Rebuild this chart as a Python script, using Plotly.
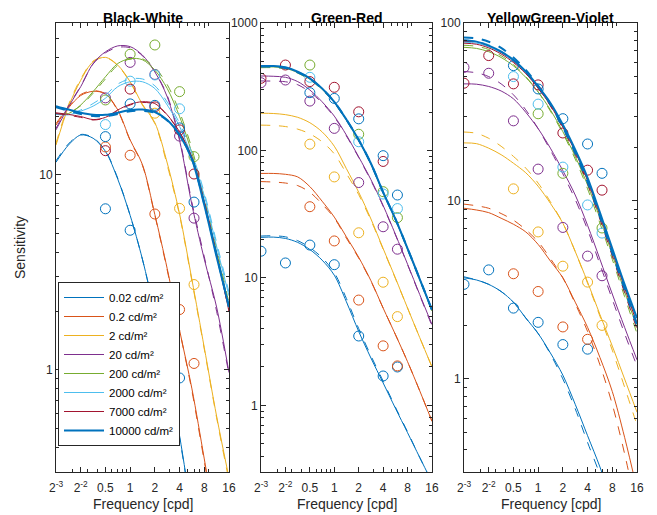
import math
import plotly.graph_objects as go

# ---------------- data ----------------
FREQ = [0.125, 0.177, 0.25, 0.354, 0.5, 0.707, 1, 1.41, 2, 2.83, 4, 5.66, 8, 11.3, 16]
MEAS_FREQ = [0.125, 0.25, 0.5, 1, 2, 4, 6]
LUM_LABELS = ["0.02 cd/m²", "0.2 cd/m²", "2 cd/m²", "20 cd/m²",
              "200 cd/m²", "2000 cd/m²", "7000 cd/m²", "10000 cd/m²"]
COLORS = ["#0072BD", "#D95319", "#EDB120", "#7E2F8E", "#77AC30", "#4DBEEE", "#A2142F", "#0072BD"]

PANEL_TITLES = ["Black-White", "Green-Red", "YellowGreen-Violet"]
X_TICKVALS = [0.125, 0.25, 0.5, 1, 2, 4, 8, 16]
X_TICKTEXT = ["2<sup>-3</sup>", "2<sup>-2</sup>", "0.5", "1", "2", "4", "8", "16"]
X_MINOR = [0.2, 0.3, 0.4, 0.6, 0.7, 0.8, 0.9, 3, 5, 6, 7, 9]
Y_TICKS = [[1, 10], [1, 10, 100, 1000], [1, 10, 100]]
Y_MINOR = [0.3, 0.4, 0.5, 0.6, 0.7, 0.8, 0.9, 2, 3, 4, 5, 6, 7, 8, 9,
           20, 30, 40, 50, 60, 70, 80, 90, 200, 300, 400, 500, 600, 700, 800, 900]
Y_RANGES = [[0.3, 60], [0.3, 1000], [0.3, 100]]

# Black-White: model fits (solid), alternative fits (dashed), measurements
BW_FIT = [
    [11.6, 14.2, 16.0, 15.4, 13.2, 9.5, 6.2, 3.7, 1.97, 1.0, 0.46, 0.18, 0.07],
    [18, 22, 25.5, 26.8, 26, 21.5, 15.1, 11.3, 6.25, 3.3, 1.6, 0.8, 0.35, 0.15],
    [14.2, 22.3, 30.5, 38, 40, 36.5, 30, 23, 18.5, 11.5, 6.3, 2.9, 1.3, 0.58, 0.28],
    [17.0, 22.3, 28.3, 37.2, 42.7, 45.8, 45.4, 41.1, 33.7, 25.1, 15.0, 7.0, 3.7, 2.1, 0.97],
    [20.4, 20.6, 22.8, 26.7, 31.8, 37.2, 39.4, 38.9, 34.4, 27.7, 19.9, 12.9, 7.2, 4.0, 2.1],
    [20.4, 20.3, 21.2, 22.5, 24.7, 28.3, 30, 30, 27.7, 22.8, 17.7, 12.3, 7.8, 4.3, 2.4],
    [20.8, 20.4, 19.9, 19.2, 19.7, 21.5, 23.0, 23.7, 23.2, 20.3, 16.6, 12.3, 7.3, 3.9, 2.0],
    [22.5, 21.6, 20.8, 20.3, 20.3, 20.8, 21.5, 21.6, 21.0, 19.1, 16.0, 12.0, 7.0, 3.8, 2.1],
]
BW_FIT_DASH = [
    [11.8, 14.4, 16.1, 15.5, 13.3, 9.6, 6.2, 3.7, 1.95, 1.0, 0.45, 0.18, 0.07],
    [18.3, 22.3, 25.8, 27, 26, 21.3, 15, 11.2, 6.2, 3.25, 1.6, 0.78, 0.34, 0.15],
    [14.5, 22.8, 31, 38.3, 40, 36.3, 29.8, 22.8, 18.3, 11.2, 6.2, 2.85, 1.28, 0.57, 0.27],
    [17.3, 22.5, 28.5, 37, 42.2, 45, 44.8, 40.8, 33.8, 25.5, 15.3, 7.2, 3.8, 2.0, 0.95],
    [20.6, 20.8, 22.6, 26.2, 31, 36.5, 39.3, 39.3, 35.5, 29, 21, 13.6, 7.6, 4.2, 2.2],
    [20.6, 20.5, 21.5, 23.2, 25.6, 29.2, 31, 31, 28.6, 23.6, 18.4, 12.9, 8.1, 4.5, 2.5],
    [20.6, 20.2, 19.7, 19.1, 19.6, 21.3, 22.8, 23.5, 23.0, 20.2, 16.5, 12.2, 7.2, 3.9, 2.0],
    [22.2, 21.3, 20.5, 20.0, 20.0, 20.5, 21.2, 21.3, 20.8, 19.0, 16.0, 12.1, 7.1, 3.9, 2.1],
]
BW_MEAS = [
    [None, None, 6.7, 5.2, None, 0.91, None],
    [None, None, 13.9, 12.6, 6.3, 2.04, 1.08],
    [None, None, None, None, 20.7, 6.73, 2.74],
    [None, None, 24.8, 37.7, 32.7, 15.8, 6.0],
    [None, None, 24.2, 41.5, 46.3, 26.7, 12.4],
    [None, None, 18.1, 30.2, 32.5, 21.8, None],
    [None, None, 13.3, 27.5, 22.3, 17.0, 10.1],
    [None, None, 15.7, 23.1, 22.7, 17.4, 7.25],
]

# Green-Red
GR_FIT = [
    [20.8, 20.9, 20.4, 19.0, 16.7, 13.8, 10.5, 6.5, 3.8, 2.35, 1.5, 0.95, 0.61, 0.39, 0.25],
    [66, 66, 65, 62, 52, 40, 30, 21, 14.5, 9.5, 5.8, 3.6, 2.2, 1.3, 0.75],
    [196, 195, 191, 182, 165, 140, 108, 72, 47, 29, 17, 10, 5.8, 3.4, 2.0],
    [384, 382, 375, 347, 298, 241, 186, 132, 89, 59, 37, 22, 12.8, 7.4, 4.3],
    [452, 452, 441, 408, 362, 302, 238, 173, 120, 78, 46.5, 28.7, 16.8, 9.7, 5.5],
    [457, 457, 446, 412, 366, 305, 240, 174, 120, 78.5, 46.8, 28.9, 16.9, 9.8, 5.6],
    [458, 458, 447, 413, 367, 306, 240, 175, 121, 79, 47, 29, 17, 9.8, 5.6],
    [460, 460, 449, 415, 368, 307, 241, 175, 121, 79, 47, 29, 17, 9.8, 5.6],
]
GR_FIT_DASH = [
    [21.3, 21.4, 21.0, 19.6, 17.3, 14.4, 11.0, 6.9, 4.0, 2.45, 1.55, 0.97, 0.62, 0.39, 0.25],
    [57, 56.5, 55.5, 53, 47, 38, 29.5, 20.5, 14.3, 9.4, 5.8, 3.6, 2.2, 1.3, 0.75],
    [158, 157, 154, 147, 135, 117, 94, 66, 45, 28.3, 16.8, 9.9, 5.8, 3.4, 2.0],
    [351, 350, 346, 328, 287, 236, 183, 130, 88, 58, 36.5, 21.8, 12.7, 7.3, 4.2],
    [446, 446, 436, 404, 358, 300, 236, 172, 119, 78, 46.5, 28.7, 16.8, 9.7, 5.5],
    [454, 454, 443, 410, 364, 303, 239, 174, 120, 78.5, 46.8, 28.9, 16.9, 9.8, 5.6],
    [455, 455, 444, 411, 365, 305, 240, 175, 121, 79, 47, 29, 17, 9.8, 5.6],
    [455, 455, 444, 411, 365, 305, 240, 175, 121, 79, 47, 29, 17, 9.8, 5.6],
]
GR_MEAS = [
    [16.2, 13.1, 18.1, 12.7, 3.5, 1.7, 2.0],
    [None, None, 36.2, 19.5, 6.7, 2.93, 2.04],
    [None, None, 112, 62, 22.6, 9.25, 4.97],
    [340, 357, 244, 149, 56, 25.2, 16.8],
    [None, None, 468, None, 134, 47.5, 29.7],
    [None, None, 375, None, 117, 45.5, 35],
    [368, 468, 347, 313, 201, 82, None],
    [None, None, 284, 256, 177, 91, 44.7],
]

# YellowGreen-Violet
YV_FIT = [
    [3.7, 3.6, 3.4, 3.1, 2.7, 2.2, 1.8, 1.4, 1.05, 0.72, 0.48, 0.32, 0.2],
    [9.1, 8.9, 8.6, 8.0, 7.4, 6.7, 5.7, 4.6, 3.7, 2.7, 1.95, 1.32, 0.85, 0.47, 0.24],
    [21.2, 21.0, 19.8, 18.2, 16.3, 14.4, 12.1, 9.7, 7.5, 5.2, 3.5, 2.3, 1.53, 1.0, 0.65],
    [45.5, 45.3, 44, 41.5, 37.5, 31.5, 25.5, 19.8, 14.8, 10.8, 7.3, 4.7, 3.0, 1.95, 1.28],
    [73, 72, 69, 64, 57.5, 49.5, 41, 32.5, 24.5, 17.8, 12.3, 8.0, 5.0, 3.1, 1.95],
    [78, 77, 73.5, 68, 61, 52.5, 43.3, 34.7, 26.2, 19, 13.1, 8.4, 5.3, 3.3, 2.1],
    [77, 76, 72.5, 67, 60, 52, 43, 34.5, 26, 18.9, 13.0, 8.3, 5.2, 3.25, 2.05],
    [80, 78.6, 74.6, 69, 62, 53.4, 44, 35.5, 26.8, 19.4, 13.5, 8.6, 5.4, 3.4, 2.2],
]
YV_FIT_DASH = [
    [3.75, 3.6, 3.4, 3.1, 2.7, 2.2, 1.8, 1.38, 1.0, 0.68, 0.44, 0.29, 0.18],
    [9.6, 9.4, 9.1, 8.5, 7.8, 6.9, 5.9, 4.75, 3.7, 2.65, 1.85, 1.2, 0.72, 0.38, 0.18],
    [24.4, 24, 22.5, 20.3, 17.8, 15.3, 12.6, 9.9, 7.5, 5.2, 3.45, 2.25, 1.45, 0.9, 0.55],
    [53.4, 52.5, 50, 45.5, 39.5, 32.5, 25.5, 19.3, 14.2, 10.2, 6.9, 4.4, 2.8, 1.8, 1.18],
    [75, 74, 71, 65.5, 58.5, 50, 41, 32, 24, 17.2, 11.7, 7.5, 4.7, 2.9, 1.8],
    [80, 79, 75.5, 69.5, 62, 53, 43.5, 34.5, 25.7, 18.5, 12.6, 8.0, 5.0, 3.1, 1.95],
    [79, 78, 74.5, 68.5, 61, 52.5, 43, 34.2, 25.5, 18.3, 12.5, 7.9, 4.9, 3.05, 1.9],
    [83, 82, 78.5, 72.5, 64, 54.5, 44.5, 35, 26, 18.6, 12.8, 8.2, 5.1, 3.2, 2.0],
]
YV_MEAS = [
    [3.4, 4.1, 2.5, 2.08, 1.56, 1.47, None],
    [None, None, 3.9, 3.1, 1.96, 1.67, None],
    [None, None, 11.7, 6.7, 4.3, 3.5, 2.0],
    [56.3, 52.2, 28.2, 15.1, 7.1, 4.9, 3.8],
    [None, None, None, 30.9, 14.3, None, 7.05],
    [None, None, 50, 35, 15.5, 9.5, 6.6],
    [45.9, 65.6, 45.5, 44.9, 24.1, 14.9, 11.5],
    [None, None, 57.6, 42.6, 29, 20.9, 14.3],
]

PANELS = [(BW_FIT, BW_FIT_DASH, BW_MEAS), (GR_FIT, GR_FIT_DASH, GR_MEAS), (YV_FIT, YV_FIT_DASH, YV_MEAS)]

# ---------------- figure ----------------
OFF = 8                 # page body margin of the html page
FW, FH = 657 - 2 * OFF, 515 - OFF


def px(x):
    return (x - OFF) / FW


def py(y):
    return 1 - (y - OFF) / FH


X_DOMAINS = [(56, 229), (261, 432), (464, 637)]
Y_DOMAIN = [py(472), py(23)]
AX = "#262626"
FONT = "Liberation Sans, Arial, Helvetica, sans-serif"

fig = go.Figure()

for p, (fit, dash, meas) in enumerate(PANELS):
    xa = "x" if p == 0 else f"x{p + 1}"
    ya = "y" if p == 0 else f"y{p + 1}"
    for i in range(8):
        lw = 2.0 if i == 7 else 1.0
        n = len(fit[i])
        fig.add_trace(go.Scatter(
            x=FREQ[:n], y=fit[i], mode="lines", xaxis=xa, yaxis=ya,
            line=dict(color=COLORS[i], width=lw, shape="spline", smoothing=0.9),
            name=LUM_LABELS[i], showlegend=(p == 0), legendrank=i, hoverinfo="skip"))
        nd = len(dash[i])
        fig.add_trace(go.Scatter(
            x=FREQ[:nd], y=dash[i], mode="lines", xaxis=xa, yaxis=ya,
            line=dict(color=COLORS[i], width=lw, dash="dash", shape="spline", smoothing=0.9),
            showlegend=False, hoverinfo="skip"))
        mx = [f for f, v in zip(MEAS_FREQ, meas[i]) if v is not None]
        my = [v for v in meas[i] if v is not None]
        fig.add_trace(go.Scatter(
            x=mx, y=my, mode="markers", xaxis=xa, yaxis=ya,
            marker=dict(symbol="circle-open", size=10, color=COLORS[i], line=dict(width=1, color=COLORS[i])),
            showlegend=False, hoverinfo="skip"))

    xd = [px(X_DOMAINS[p][0]), px(X_DOMAINS[p][1])]
    xkey = "xaxis" if p == 0 else f"xaxis{p + 1}"
    ykey = "yaxis" if p == 0 else f"yaxis{p + 1}"
    common = dict(showline=True, linecolor=AX, linewidth=1, mirror="allticks", ticks="inside",
                  ticklen=5, tickcolor=AX, tickwidth=1, showgrid=False, zeroline=False, automargin=False,
                  tickfont=dict(family=FONT, size=12, color=AX))
    fig.layout[xkey] = dict(
        type="log", domain=xd, range=[math.log10(0.125), math.log10(16)],
        tickmode="array", tickvals=X_TICKVALS, ticktext=X_TICKTEXT, anchor=ya, ticklabelstandoff=5,
        minor=dict(tickmode="array", tickvals=X_MINOR, ticks="inside", ticklen=3, tickcolor=AX),
        **common)
    lo, hi = Y_RANGES[p]
    fig.layout[ykey] = dict(
        type="log", domain=Y_DOMAIN, range=[math.log10(lo), math.log10(hi)],
        tickmode="array", tickvals=Y_TICKS[p], ticktext=[str(v) for v in Y_TICKS[p]], anchor=xa,
        minor=dict(tickmode="array", tickvals=[v for v in Y_MINOR if lo <= v <= hi], ticks="inside",
                   ticklen=3, tickcolor=AX),
        **common)

    cx = px((X_DOMAINS[p][0] + X_DOMAINS[p][1]) / 2)
    fig.add_annotation(x=cx, y=py(8), xref="paper", yref="paper", text=f"<b>{PANEL_TITLES[p]}</b>",
                       xanchor="center", yanchor="top",
                       showarrow=False, font=dict(family=FONT, size=14, color="#000000"))
    fig.add_annotation(x=cx, y=py(504), xref="paper", yref="paper", text="Frequency [cpd]",
                       xanchor="center", yanchor="middle",
                       showarrow=False, font=dict(family=FONT, size=14, color=AX))

fig.add_annotation(x=px(20), y=py(248), xref="paper", yref="paper", text="Sensitivity", textangle=-90,
                   xanchor="center", yanchor="middle",
                   showarrow=False, font=dict(family=FONT, size=14, color=AX))

fig.update_layout(
    template="none",
    width=FW, height=FH, margin=dict(l=0, r=0, t=0, b=0, autoexpand=False),
    paper_bgcolor="white", plot_bgcolor="white",
    legend=dict(x=px(58), y=py(282), xanchor="left", yanchor="top", bgcolor="white",
                bordercolor=AX, borderwidth=1, font=dict(family=FONT, size=11.5, color="#000000"),
                tracegroupgap=0, itemwidth=40),
    showlegend=True,
)

fig.write_html("out.html")
